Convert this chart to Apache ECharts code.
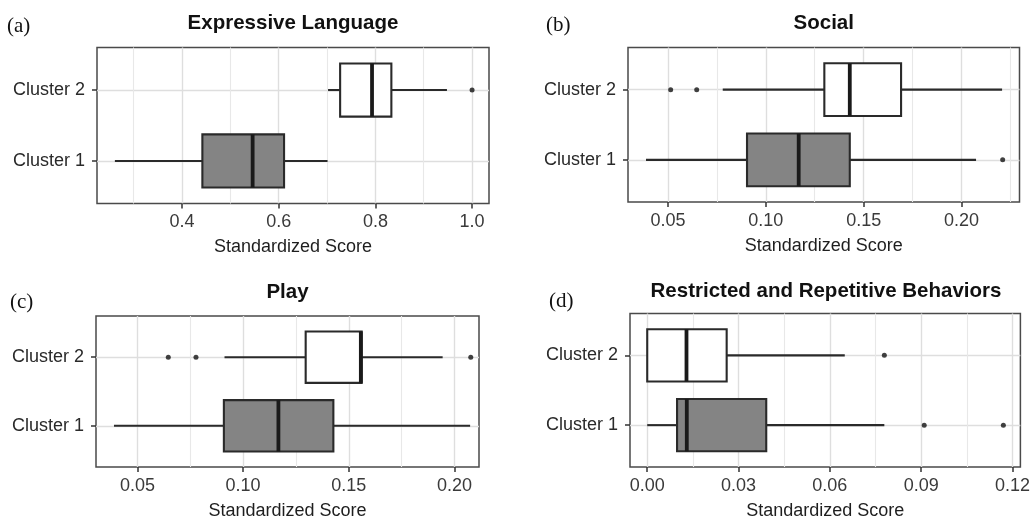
<!DOCTYPE html>
<html><head><meta charset="utf-8">
<script src="https://cdn.jsdelivr.net/npm/echarts@6/dist/echarts.min.js"></script>
<style>html,body{margin:0;padding:0;background:#fff;}#chart{width:1033px;height:521px;}</style>
</head><body><div id="chart"></div>
<script>
// ---------- data ----------
const categories = ['Cluster 1', 'Cluster 2'];
const panelTitles = ['Expressive Language', 'Social', 'Play', 'Restricted and Repetitive Behaviors'];
const panelTags = ['(a)', '(b)', '(c)', '(d)'];
const axisTitle = 'Standardized Score';

// five-number summaries: [lower whisker, Q1, median, Q3, upper whisker]
const exprCluster1 = [0.261, 0.442, 0.546, 0.611, 0.701];
const exprCluster2 = [0.702, 0.727, 0.793, 0.833, 0.948];
const exprOutliers1 = [];
const exprOutliers2 = [1.0];

const socialCluster1 = [0.0388, 0.0904, 0.1168, 0.1429, 0.2074];
const socialCluster2 = [0.0780, 0.1299, 0.1429, 0.1691, 0.2207];
const socialOutliers1 = [0.2210];
const socialOutliers2 = [0.0514, 0.0647];

const playCluster1 = [0.0389, 0.0909, 0.1167, 0.1427, 0.2074];
const playCluster2 = [0.0912, 0.1296, 0.1557, 0.1561, 0.1944];
const playOutliers1 = [];
const playOutliers2 = [0.0646, 0.0777, 0.2077];

const rrbCluster1 = [0.0, 0.0098, 0.0130, 0.0391, 0.0779];
const rrbCluster2 = [0.0, 0.0, 0.0129, 0.0261, 0.0649];
const rrbOutliers1 = [0.0910, 0.1170];
const rrbOutliers2 = [0.0779];

// axis ticks
const exprTicks = [0.4, 0.6, 0.8, 1.0];
const exprMinor = [0.3, 0.5, 0.7, 0.9];
const socialTicks = [0.05, 0.10, 0.15, 0.20];
const socialMinor = [0.075, 0.125, 0.175, 0.225];
const playTicks = [0.05, 0.10, 0.15, 0.20];
const playMinor = [0.075, 0.125, 0.175];
const rrbTicks = [0.00, 0.03, 0.06, 0.09, 0.12];
const rrbMinor = [0.015, 0.045, 0.075, 0.105];

// axis ranges
const exprRange = [0.224, 1.035];
const socialRange = [0.0296, 0.2296];
const playRange = [0.0304, 0.2116];
const rrbRange = [-0.00566, 0.1226];
const catRange = [0.4, 2.6];

// ---------- layout ----------
const panels = [
  { c1: exprCluster1, c2: exprCluster2, o1: exprOutliers1, o2: exprOutliers2, ticks: exprTicks, minor: exprMinor, range: exprRange, dec: 1 },
  { c1: socialCluster1, c2: socialCluster2, o1: socialOutliers1, o2: socialOutliers2, ticks: socialTicks, minor: socialMinor, range: socialRange, dec: 2 },
  { c1: playCluster1, c2: playCluster2, o1: playOutliers1, o2: playOutliers2, ticks: playTicks, minor: playMinor, range: playRange, dec: 2 },
  { c1: rrbCluster1, c2: rrbCluster2, o1: rrbOutliers1, o2: rrbOutliers2, ticks: rrbTicks, minor: rrbMinor, range: rrbRange, dec: 2 }
];
const rects = [
  { left: 97, top: 47.5, width: 392, height: 156 },
  { left: 628, top: 47.5, width: 391.5, height: 154.5 },
  { left: 96, top: 316, width: 383, height: 155.5 },
  { left: 630, top: 313.5, width: 392, height: 156.5 }
];
const titleY = [23, 23, 292, 291];
const tagPos = [[7, 26.5], [546, 25], [10, 302.5], [549, 301]];
const FONT = '"Liberation Sans", Arial, Helvetica, sans-serif';
const boxFill = ['#848484', '#ffffff'];
const BOX_HALF = 0.375;

function renderBox(params, api) {
  const y = api.value(0);
  const lo = api.value(1), q1 = api.value(2), med = api.value(3), q3 = api.value(4), hi = api.value(5);
  const fill = boxFill[api.value(6)];
  const pLo = api.coord([lo, y]);
  const pQ1 = api.coord([q1, y]);
  const pMed = api.coord([med, y]);
  const pQ3 = api.coord([q3, y]);
  const pHi = api.coord([hi, y]);
  const h = api.size([0, BOX_HALF])[1];
  const cy = pMed[1];
  const stroke = { stroke: '#2a2a2a', lineWidth: 2.1 };
  return {
    type: 'group',
    children: [
      { type: 'line', shape: { x1: pLo[0], y1: cy, x2: pQ1[0], y2: cy }, style: stroke },
      { type: 'line', shape: { x1: pQ3[0], y1: cy, x2: pHi[0], y2: cy }, style: stroke },
      { type: 'rect', shape: { x: pQ1[0], y: cy - h, width: pQ3[0] - pQ1[0], height: 2 * h },
        style: { fill: fill, stroke: '#2a2a2a', lineWidth: 2.1 } },
      { type: 'line', shape: { x1: pMed[0], y1: cy - h, x2: pMed[0], y2: cy + h },
        style: { stroke: '#1a1a1a', lineWidth: 3.8 } }
    ]
  };
}

const grid = [], xAxis = [], yAxis = [], series = [], graphic = [];
panels.forEach((p, i) => {
  const r = rects[i];
  grid.push({ left: r.left, top: r.top, width: r.width, height: r.height, show: true,
    borderColor: '#4a4a4a', borderWidth: 1.5, backgroundColor: 'rgba(0,0,0,0)' });
  xAxis.push({
    type: 'value', gridIndex: i, min: p.range[0], max: p.range[1], position: 'bottom',
    axisLine: { show: false, onZero: false },
    axisTick: { show: true, length: 5, customValues: p.ticks, lineStyle: { color: '#333', width: 1.5 } },
    axisLabel: { customValues: p.ticks, formatter: v => Number(v).toFixed(p.dec), fontSize: 18,
      color: '#3a3a3a', margin: 10, fontFamily: FONT },
    splitLine: { show: true, lineStyle: { color: '#dedede', width: 1.4 } },
    name: axisTitle, nameLocation: 'middle', nameGap: 35,
    nameTextStyle: { fontSize: 18, color: '#1e1e1e', fontFamily: FONT }
  });
  xAxis.push({
    type: 'value', gridIndex: i, min: p.range[0], max: p.range[1], position: 'bottom',
    axisLine: { show: false, onZero: false },
    axisTick: { show: false, customValues: p.minor },
    axisLabel: { show: false, customValues: p.minor },
    splitLine: { show: true, lineStyle: { color: '#e8e8e8', width: 1.1 } }
  });
  yAxis.push({
    type: 'value', gridIndex: i, min: catRange[0], max: catRange[1],
    axisLine: { show: false, onZero: false },
    axisTick: { show: true, length: 5, customValues: [1, 2], lineStyle: { color: '#333', width: 1.5 } },
    axisLabel: { customValues: [1, 2], formatter: v => categories[Math.round(v) - 1], fontSize: 18,
      color: '#2a2a2a', margin: 12, fontFamily: FONT },
    splitLine: { show: true, lineStyle: { color: '#dedede', width: 1.4 } }
  });
  series.push({
    type: 'custom', xAxisIndex: 2 * i, yAxisIndex: i,
    renderItem: renderBox,
    encode: { x: [1, 2, 3, 4, 5], y: 0 },
    data: [[1].concat(p.c1, [0]), [2].concat(p.c2, [1])],
    z: 3
  });
  series.push({
    type: 'scatter', xAxisIndex: 2 * i, yAxisIndex: i, symbolSize: 5,
    itemStyle: { color: '#111' },
    data: p.o1.map(v => [v, 1]).concat(p.o2.map(v => [v, 2])),
    z: 4
  });
  graphic.push({ type: 'text', x: r.left + r.width / 2, y: titleY[i],
    style: { text: panelTitles[i], font: 'bold 20.5px ' + FONT, fill: '#111', align: 'center', verticalAlign: 'middle' } });
  graphic.push({ type: 'text', x: tagPos[i][0], y: tagPos[i][1],
    style: { text: panelTags[i], font: '21px "Liberation Serif", "Times New Roman", serif', fill: '#111', align: 'left', verticalAlign: 'middle' } });
});

const chart = echarts.init(document.getElementById('chart'), null, { renderer: 'canvas' });
chart.setOption({
  backgroundColor: '#fff',
  animation: false,
  textStyle: { fontFamily: FONT },
  grid, xAxis, yAxis, series, graphic
});
</script></body></html>
